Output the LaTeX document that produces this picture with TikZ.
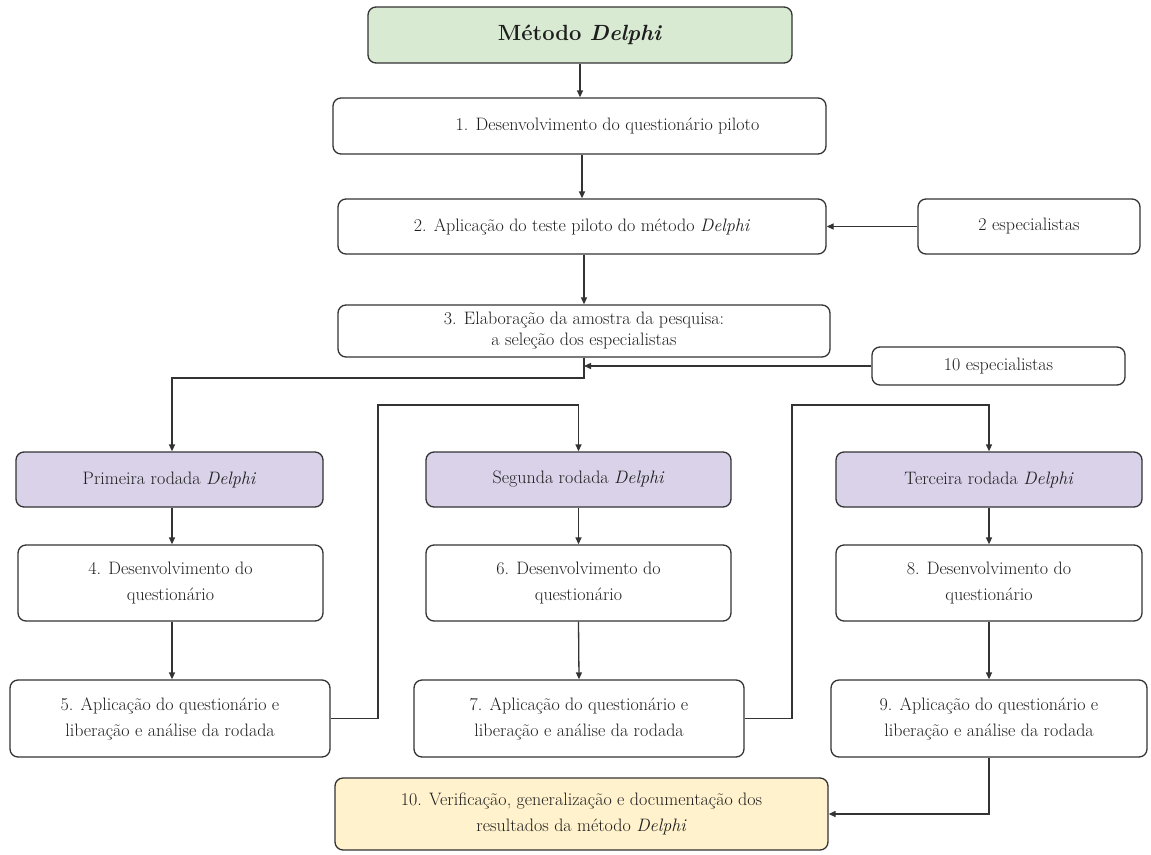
\documentclass[tikz,border=0pt]{standalone}
\usepackage{fontspec}
\usetikzlibrary{arrows.meta}
\definecolor{linecol}{HTML}{333333}
\definecolor{txtcol}{HTML}{1E1E1E}
\definecolor{greenfill}{HTML}{D9EAD3}
\definecolor{purplefill}{HTML}{D9D2E9}
\definecolor{yellowfill}{HTML}{FFF2CC}
\tikzset{
  boxshape/.style={draw=linecol, line width=1.3pt, rounded corners=8pt, fill=white,
    align=center, text=txtcol, inner sep=0pt},
  box/.style={boxshape,
    execute at begin node={\fontsize{18}{26}\selectfont}},
  titlebox/.style={boxshape, fill=greenfill,
    execute at begin node={\fontsize{22}{28}\selectfont\bfseries}},
  roundbox/.style={box, fill=purplefill},
  finalbox/.style={box, fill=yellowfill},
  arr/.style={draw=linecol, line width=1.3pt, -{Triangle[length=7pt,width=6pt]}},
}
\begin{document}
\begin{tikzpicture}[x=1pt, y=-1pt]
\useasboundingbox (0,0) rectangle (1151,854);

% main column
\node[titlebox, minimum width=424pt, minimum height=56pt] (m) at (580,35) {Método \textit{Delphi}};
\node[box, minimum width=493pt, minimum height=56pt] (b1) at (579.5,126) {\hspace*{56pt}1. Desenvolvimento do questionário piloto};
\node[box, minimum width=488pt, minimum height=55pt] (b2) at (582,226.5) {2. Aplicação do teste piloto do método \textit{Delphi}};
\node[box, minimum width=222pt, minimum height=55pt] (e2) at (1029,226.5) {2 especialistas};
\node[box, minimum width=492pt, minimum height=52pt] (b3) at (584,331) {3. Elaboração da amostra da pesquisa:\\[-5pt]a seleção dos especialistas};
\node[box, minimum width=253pt, minimum height=38pt] (e10) at (998.5,366) {10 especialistas};

% rounds
\node[roundbox, minimum width=307pt, minimum height=55pt] (p1) at (169.5,479.5) {Primeira rodada \textit{Delphi}};
\node[box, minimum width=305pt, minimum height=76pt] (b4) at (170.5,583) {4. Desenvolvimento do\\questionário};
\node[box, minimum width=320pt, minimum height=77pt] (b5) at (170,718.5) {5. Aplicação do questionário e\\liberação e análise da rodada};

\node[roundbox, minimum width=305pt, minimum height=55pt] (p2) at (578.5,479.5) {Segunda rodada \textit{Delphi}};
\node[box, minimum width=305pt, minimum height=76pt] (b6) at (578.5,583) {6. Desenvolvimento do\\questionário};
\node[box, minimum width=330pt, minimum height=77pt] (b7) at (579,718.5) {7. Aplicação do questionário e\\liberação e análise da rodada};

\node[roundbox, minimum width=306pt, minimum height=55pt] (p3) at (989,479.5) {Terceira rodada \textit{Delphi}};
\node[box, minimum width=306pt, minimum height=76pt] (b8) at (989,583) {8. Desenvolvimento do\\questionário};
\node[box, minimum width=316pt, minimum height=77pt] (b9) at (989,718.5) {9. Aplicação do questionário e\\liberação e análise da rodada};

\node[finalbox, minimum width=493pt, minimum height=72pt] (b10) at (581.5,814) {10. Verificação, generalização e documentação dos\\resultados da método \textit{Delphi}};

% junction points of the loop-back lines
\coordinate (j0) at (172,378);
\coordinate (j1) at (378,405);
\coordinate (j2) at (792,405);

% connectors
\draw[arr] (m.south) -- (m.south |- b1.north);
\draw[arr] (b1.south -| b2.north) -- (b2.north);
\draw[arr] (e2.west) -- (e2.west -| b2.east);
\draw[arr] (b2.south -| b3.north) -- (b3.north);
\draw[arr] (b3.south) |- (j0) -- (j0 |- p1.north);
\draw[arr] (e10.west) -- (e10.west -| b3.south);
\draw[arr] (p1.south -| j0) -- (b4.north -| j0);
\draw[arr] (b4.south -| j0) -- (b5.north -| j0);
\draw[arr] (b5.east) -| (j1) -| (p2.north);
\draw[arr] (p2.south) -- (b6.north);
\draw[arr] (b6.south) -- (b7.north);
\draw[arr] (b7.east) -| (j2) -| (p3.north);
\draw[arr] (p3.south) -- (b8.north);
\draw[arr] (b8.south) -- (b9.north);
\draw[arr] (b9.south) |- (b10.east);
\end{tikzpicture}
\end{document}
